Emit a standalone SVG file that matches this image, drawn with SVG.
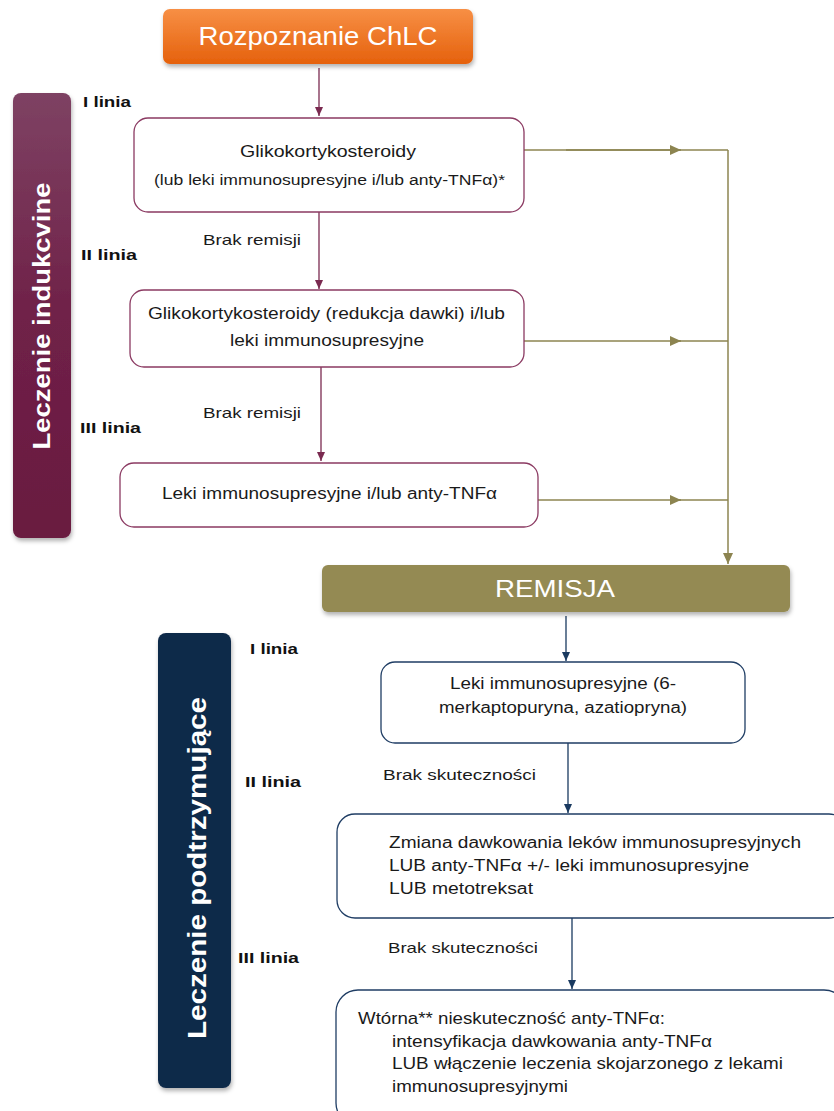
<svg xmlns="http://www.w3.org/2000/svg" width="834" height="1111" viewBox="0 0 834 1111">
<style>
.t{font-family:"Liberation Sans Narrow","Liberation Sans",Arial,sans-serif;fill:#1a1a1a}
.lb{font-family:"Liberation Sans Narrow","Liberation Sans",Arial,sans-serif;font-weight:bold;font-size:14px;fill:#111}
.bar{font-family:"Liberation Sans",Arial,sans-serif;font-weight:bold;fill:#fff}
.wt{font-family:"Liberation Sans Narrow","Liberation Sans",Arial,sans-serif;fill:#fff}
.pbox{fill:#fff;stroke:#8b3a62;stroke-width:1.3}
.nbox{fill:#fff;stroke:#1f3d64;stroke-width:1.3}
.pl{stroke:#7a2a50;stroke-width:1.3;fill:none}
.ol{stroke:#8c8450;stroke-width:1.5;fill:none}
.nl{stroke:#1a3a60;stroke-width:1.3;fill:none}
</style>
<defs>
<linearGradient id="gOr" x1="0" y1="0" x2="0" y2="1"><stop offset="0" stop-color="#f78f45"/><stop offset="1" stop-color="#e5610c"/></linearGradient>
<linearGradient id="gPu" x1="0" y1="0" x2="0" y2="1"><stop offset="0" stop-color="#7e4263"/><stop offset="0.5" stop-color="#6f2148"/><stop offset="1" stop-color="#6a1a40"/></linearGradient>
<filter id="sh" x="-10%" y="-10%" width="120%" height="130%"><feDropShadow dx="1" dy="3" stdDeviation="2" flood-color="#000" flood-opacity="0.3"/></filter>
<marker id="aP" markerWidth="10" markerHeight="10" refX="9" refY="5" orient="auto" markerUnits="userSpaceOnUse"><path d="M0,1 L9,5 L0,9 Z" fill="#7a2a50"/></marker>
<marker id="aO" markerWidth="12" markerHeight="12" refX="11" refY="6" orient="auto" markerUnits="userSpaceOnUse"><path d="M0,1 L11,6 L0,11 Z" fill="#8c8450"/></marker>
<marker id="aN" markerWidth="10" markerHeight="10" refX="9" refY="5" orient="auto" markerUnits="userSpaceOnUse"><path d="M0,1 L9,5 L0,9 Z" fill="#1a3a60"/></marker>
</defs>

<g id="connectors">
<line class="pl" x1="319" y1="68" x2="319" y2="116" marker-end="url(#aP)"/>
<line class="pl" x1="319" y1="212" x2="319" y2="289" marker-end="url(#aP)"/>
<line class="pl" x1="321" y1="367" x2="321" y2="461" marker-end="url(#aP)"/>
<line class="ol" x1="524" y1="150" x2="681" y2="150" marker-end="url(#aO)"/>
<line class="ol" x1="566" y1="150" x2="676" y2="150" stroke-width="2.5"/>
<line class="ol" x1="676" y1="150" x2="728" y2="150"/>
<line class="ol" x1="524" y1="341" x2="681" y2="341" marker-end="url(#aO)"/>
<line class="ol" x1="676" y1="341" x2="728" y2="341"/>
<line class="ol" x1="538" y1="500" x2="681" y2="500" marker-end="url(#aO)"/>
<line class="ol" x1="676" y1="500" x2="728" y2="500"/>
<line class="ol" x1="728" y1="150" x2="728" y2="564" marker-end="url(#aO)"/>
<line class="nl" x1="566" y1="616" x2="566" y2="661" marker-end="url(#aN)"/>
<line class="nl" x1="568" y1="743" x2="568" y2="813" marker-end="url(#aN)"/>
<line class="nl" x1="572" y1="918" x2="572" y2="989" marker-end="url(#aN)"/>
</g>

<g id="start">
<rect x="163" y="9" width="310" height="55" rx="7" fill="url(#gOr)" filter="url(#sh)"/>
<text class="wt" x="318" y="45" font-size="25" text-anchor="middle" textLength="239" lengthAdjust="spacingAndGlyphs">Rozpoznanie ChLC</text>
</g>

<g id="induction-bar">
<rect x="13" y="93" width="58" height="445" rx="8" fill="url(#gPu)" filter="url(#sh)"/>
<text class="bar" transform="translate(50,316) rotate(-90)" font-size="24" text-anchor="middle" textLength="267" lengthAdjust="spacingAndGlyphs">Leczenie indukcvine</text>
</g>

<g id="labels-induction">
<text class="lb" x="83" y="107" textLength="48" lengthAdjust="spacingAndGlyphs">I linia</text>
<text class="lb" x="81" y="260" textLength="56" lengthAdjust="spacingAndGlyphs">II linia</text>
<text class="lb" x="80" y="433" textLength="61" lengthAdjust="spacingAndGlyphs">III linia</text>
<text class="t" x="203" y="245" font-size="15" textLength="98" lengthAdjust="spacingAndGlyphs">Brak remisji</text>
<text class="t" x="203" y="418" font-size="15" textLength="98" lengthAdjust="spacingAndGlyphs">Brak remisji</text>
</g>

<g id="box1">
<rect class="pbox" x="134" y="118" width="390" height="94" rx="14"/>
<text class="t" x="240" y="157" font-size="16" textLength="176" lengthAdjust="spacingAndGlyphs">Glikokortykosteroidy</text>
<text class="t" x="154" y="185" font-size="14" textLength="351" lengthAdjust="spacingAndGlyphs">(lub leki immunosupresyjne i/lub anty-TNFα)*</text>
</g>

<g id="box2">
<rect class="pbox" x="130" y="290" width="394" height="77" rx="14"/>
<text class="t" x="148" y="319" font-size="16" textLength="357" lengthAdjust="spacingAndGlyphs">Glikokortykosteroidy (redukcja dawki) i/lub</text>
<text class="t" x="230" y="346" font-size="16" textLength="194" lengthAdjust="spacingAndGlyphs">leki immunosupresyjne</text>
</g>

<g id="box3">
<rect class="pbox" x="120" y="463" width="418" height="64" rx="14"/>
<text class="t" x="162" y="499" font-size="16" textLength="335" lengthAdjust="spacingAndGlyphs">Leki immunosupresyjne i/lub anty-TNFα</text>
</g>

<g id="remisja">
<rect x="322" y="565" width="468" height="47" rx="6" fill="#948a52" filter="url(#sh)"/>
<text class="wt" x="555" y="597" font-size="24" text-anchor="middle" textLength="120" lengthAdjust="spacingAndGlyphs">REMISJA</text>
</g>

<g id="maintenance-bar">
<rect x="158" y="633" width="73" height="455" rx="8" fill="#0f2a4a" filter="url(#sh)"/>
<text class="bar" transform="translate(206,868) rotate(-90)" font-size="25" text-anchor="middle" textLength="342" lengthAdjust="spacingAndGlyphs">Leczenie podtrzymujące</text>
</g>

<g id="labels-maintenance">
<text class="lb" x="250" y="654" textLength="48" lengthAdjust="spacingAndGlyphs">I linia</text>
<text class="lb" x="245" y="787" textLength="56" lengthAdjust="spacingAndGlyphs">II linia</text>
<text class="lb" x="238" y="963" textLength="61" lengthAdjust="spacingAndGlyphs">III linia</text>
<text class="t" x="383" y="780" font-size="15" textLength="153" lengthAdjust="spacingAndGlyphs">Brak skuteczności</text>
<text class="t" x="388" y="953" font-size="15" textLength="150" lengthAdjust="spacingAndGlyphs">Brak skuteczności</text>
</g>

<g id="box4">
<rect class="nbox" x="381" y="662" width="364" height="81" rx="14"/>
<text class="t" x="450" y="689" font-size="16" textLength="226" lengthAdjust="spacingAndGlyphs">Leki immunosupresyjne (6-</text>
<text class="t" x="439" y="713" font-size="16" textLength="248" lengthAdjust="spacingAndGlyphs">merkaptopuryna, azatiopryna)</text>
</g>

<g id="box5">
<rect class="nbox" x="337" y="814" width="510" height="104" rx="18"/>
<text class="t" x="389" y="848" font-size="16" textLength="412" lengthAdjust="spacingAndGlyphs">Zmiana dawkowania leków immunosupresyjnych</text>
<text class="t" x="389" y="871" font-size="16" textLength="360" lengthAdjust="spacingAndGlyphs">LUB anty-TNFα  +/- leki immunosupresyjne</text>
<text class="t" x="389" y="894" font-size="16" textLength="144" lengthAdjust="spacingAndGlyphs">LUB metotreksat</text>
</g>

<g id="box6">
<rect class="nbox" x="336" y="990" width="510" height="135" rx="22"/>
<text class="t" x="358" y="1024" font-size="17" textLength="307" lengthAdjust="spacingAndGlyphs">Wtórna** nieskuteczność anty-TNFα:</text>
<text class="t" x="392" y="1047" font-size="17" textLength="320" lengthAdjust="spacingAndGlyphs">intensyfikacja dawkowania anty-TNFα</text>
<text class="t" x="392" y="1069" font-size="17" textLength="391" lengthAdjust="spacingAndGlyphs">LUB włączenie leczenia skojarzonego z lekami</text>
<text class="t" x="392" y="1092" font-size="17" textLength="176" lengthAdjust="spacingAndGlyphs">immunosupresyjnymi</text>
</g>
</svg>
